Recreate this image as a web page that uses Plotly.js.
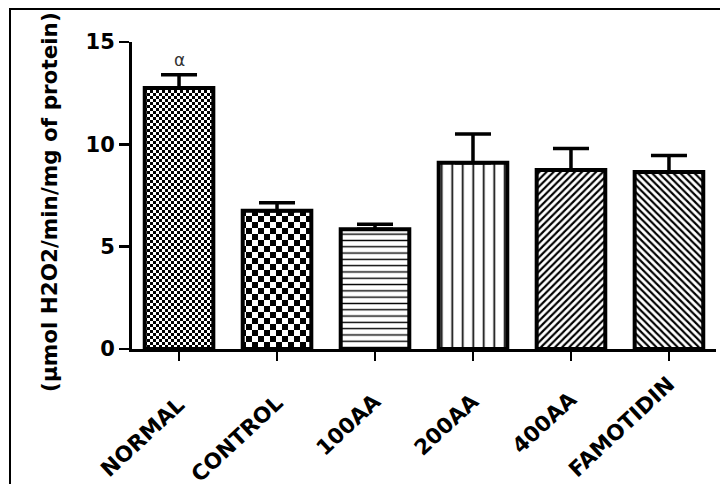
<!DOCTYPE html>
<html>
<head>
<meta charset="utf-8">
<script src="https://cdn.plot.ly/plotly-3.0.1.min.js"></script>
<style>
  html, body { margin: 0; padding: 0; background: #fff; }
  #wrap { position: relative; width: 720px; height: 484px; }
  #chart { position: absolute; left: 0; top: 0; width: 720px; height: 484px; }
  #frame {
    position: absolute; left: 9px; top: 8px; right: 0; bottom: 0;
    border-left: 2px solid #000; border-top: 2px solid #000;
    pointer-events: none;
  }
</style>
</head>
<body>
<div id="wrap">
  <div id="chart"></div>
  <div id="frame"></div>
</div>
<script>
// Catalase-type activity per treatment group (mean and SEM)
const groups = ['NORMAL', 'CONTROL', '100AA', '200AA', '400AA', 'FAMOTIDIN'];
const means  = [12.75, 6.75, 5.85, 9.1, 8.75, 8.65];
const sems   = [0.65, 0.4, 0.25, 1.4, 1.05, 0.8];
const yTicks = [0, 5, 10, 15];
const significance = ['α', '', '', '', '', ''];
const yTitle = '(µmol H2O2/min/mg of protein)';

// Fill style of each bar
const patternShapes = ['.', '.', '-', '|', '/', '\\'];
const patternSizes  = [6, 12, 6.3, 10.5, 5, 5];
const patternSolid  = [0.5, 0.5, 0.22, 0.16, 0.42, 0.42];
// bars drawn with a checkerboard instead (cell size in px)
const checkerCells  = [3, 6, 0, 0, 0, 0];
// how far each rotated category label sits below the axis (px)
const labelDrop = [41, 39, 38, 38, 36, 21];

const fontFamily = 'DejaVu Sans, Arial, sans-serif';
const boldFont = { family: fontFamily, weight: 700, color: '#000' };

const trace = {
  type: 'bar',
  x: groups,
  y: means,
  width: 0.7,
  marker: {
    color: '#fff',
    line: { color: '#000', width: 4 },
    pattern: {
      shape: patternShapes,
      size: patternSizes,
      solidity: patternSolid,
      fgcolor: '#000',
      bgcolor: '#fff',
      fillmode: 'replace'
    }
  },
  error_y: {
    type: 'data',
    symmetric: false,
    array: sems,
    arrayminus: sems.map(() => 0),
    color: '#000',
    thickness: 3.5,
    width: 18
  },
  hoverinfo: 'skip'
};

// significance marks above the error caps
const markNotes = groups
  .map((g, i) => ({ g, i }))
  .filter(d => significance[d.i])
  .map(d => ({
    x: d.g,
    y: means[d.i] + sems[d.i],
    xref: 'x', yref: 'y',
    text: significance[d.i],
    showarrow: false,
    yanchor: 'bottom',
    yshift: 3,
    font: { family: fontFamily, size: 17, color: '#333' }
  }));

// slanted category labels under the ticks
const labelNotes = groups.map((g, i) => ({
  x: g,
  y: 0,
  xref: 'x', yref: 'paper',
  text: g,
  showarrow: false,
  textangle: -43,
  xanchor: 'right',
  yanchor: 'top',
  xshift: 12,
  yshift: -labelDrop[i],
  borderpad: 0,
  font: Object.assign({ size: 21.5 }, boldFont)
}));

const titleNote = {
  x: -0.141, y: 0.478,
  xref: 'paper', yref: 'paper',
  text: yTitle,
  showarrow: false,
  textangle: -90,
  xanchor: 'center',
  yanchor: 'middle',
  font: Object.assign({ size: 21.5 }, boldFont)
};

const layout = {
  width: 720,
  height: 484,
  margin: { l: 132, r: 4, t: 42, b: 135, pad: 0 },
  paper_bgcolor: '#fff',
  plot_bgcolor: '#fff',
  showlegend: false,
  xaxis: {
    type: 'category',
    range: [-0.48, 5.48],
    showline: true, linecolor: '#000', linewidth: 3,
    ticks: 'outside', ticklen: 9, tickwidth: 2.5, tickcolor: '#000',
    showticklabels: false,
    showgrid: false, zeroline: false, fixedrange: true
  },
  yaxis: {
    range: [0, 15],
    tickvals: yTicks,
    ticktext: yTicks.map(String),
    showline: true, linecolor: '#000', linewidth: 3,
    ticks: 'outside', ticklen: 10, tickwidth: 2.5, tickcolor: '#000',
    tickfont: Object.assign({ size: 21 }, boldFont),
    showgrid: false, zeroline: false, fixedrange: true
  },
  annotations: markNotes.concat(labelNotes, [titleNote])
};

const gd = document.getElementById('chart');

// Swap the dot fills of the first groups for a square checkerboard
function applyCheckerboards() {
  const ns = 'http://www.w3.org/2000/svg';
  const paths = gd.querySelectorAll('.barlayer .point path');
  paths.forEach((p, i) => {
    const cell = checkerCells[i];
    if (!cell) return;
    const m = (p.style.fill || p.getAttribute('style') || '').match(/#([^'")\s]+)/);
    if (!m) return;
    const pat = document.getElementById(m[1]);
    if (!pat) return;
    while (pat.firstChild) pat.removeChild(pat.firstChild);
    pat.setAttribute('width', 2 * cell);
    pat.setAttribute('height', 2 * cell);
    const add = (x, y, w, h, c) => {
      const r = document.createElementNS(ns, 'rect');
      r.setAttribute('x', x); r.setAttribute('y', y);
      r.setAttribute('width', w); r.setAttribute('height', h);
      r.setAttribute('fill', c);
      pat.appendChild(r);
    };
    add(0, 0, 2 * cell, 2 * cell, '#fff');
    add(0, 0, cell, cell, '#000');
    add(cell, cell, cell, cell, '#000');
  });
}

Plotly.newPlot(gd, [trace], layout, { staticPlot: true, displayModeBar: false })
  .then(applyCheckerboards);
</script>
</body>
</html>
